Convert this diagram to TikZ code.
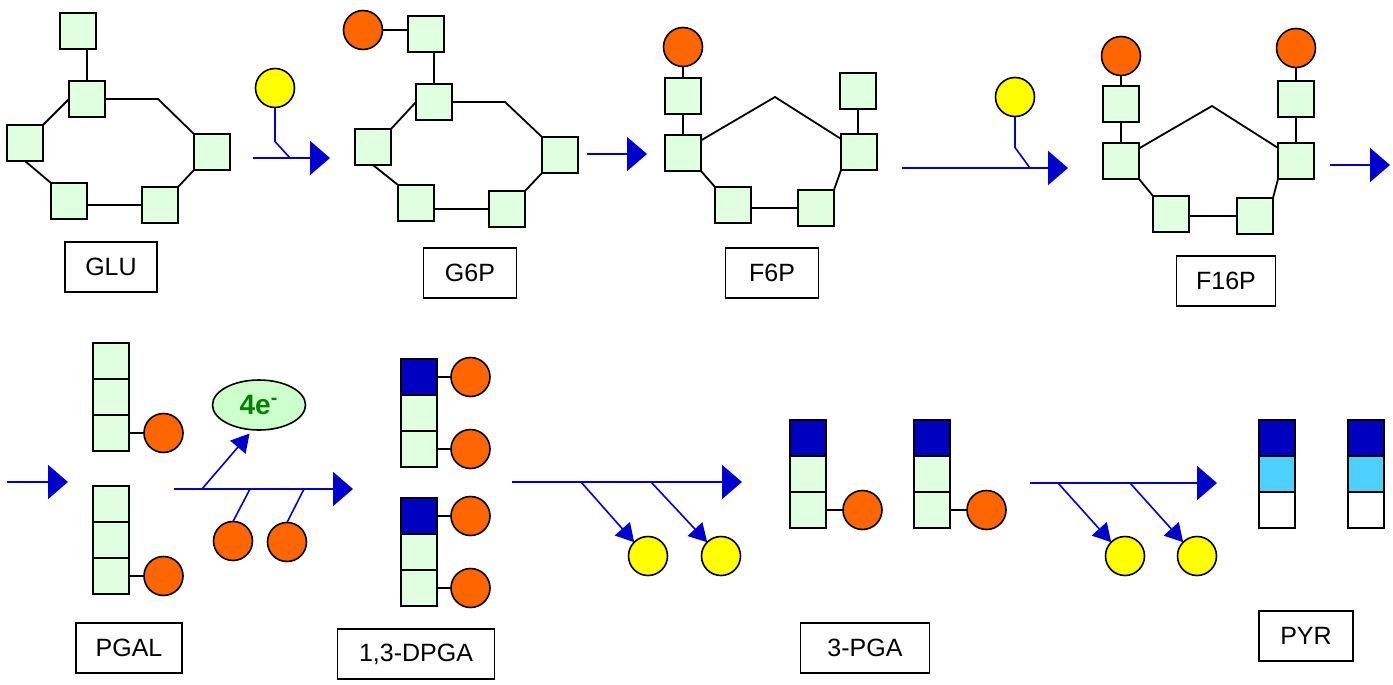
\documentclass[tikz,border=0pt]{standalone}
\usepackage{fontspec}
\setmainfont{Liberation Sans}
\usepackage{xcolor}
\usetikzlibrary{arrows.meta, positioning, shapes.geometric}

\definecolor{carbon}{RGB}{224,255,224}
\definecolor{phosorange}{RGB}{255,102,0}
\definecolor{atpyellow}{RGB}{255,255,0}
\definecolor{oxblue}{RGB}{0,0,192}
\definecolor{pyrblue}{RGB}{77,207,255}
\definecolor{flowblue}{RGB}{0,0,204}
\definecolor{elgreen}{RGB}{204,255,204}
\definecolor{eltext}{RGB}{0,128,0}

\begin{document}
\begin{tikzpicture}[x=0.5pt, y=-0.5pt,
  sq/.style={draw, fill=carbon, minimum size=18pt, inner sep=0pt, outer sep=0pt, line width=0.9pt},
  phos/.style={draw, circle, fill=phosorange, minimum size=19.5pt, inner sep=0pt, outer sep=0pt, line width=0.8pt},
  atp/.style={phos, fill=atpyellow},
  molname/.style={draw, line width=0.8pt, minimum height=25pt, inner sep=0pt, font=\fontsize{12.5}{14}\selectfont},
  bond/.style={line width=0.9pt},
  flow/.style={draw=flowblue, line width=1pt, -{Triangle[length=10pt, width=17pt]}},
  side/.style={draw=flowblue, line width=0.8pt},
  sideout/.style={side, -{Triangle[length=9pt, width=10pt]}},
]
  \useasboundingbox (0,0) rectangle (1393,685);

  % Glucose
  \node[sq] (glu1) at (78,31) {};
  \node[sq] (glu2) at (87,99) {};
  \node[sq] (glu3) at (25,143) {};
  \node[sq] (glu4) at (69,201) {};
  \node[sq] (glu5) at (160,205) {};
  \node[sq] (glu6) at (212,152) {};
  \coordinate (gluv) at (158,99);
  \draw[bond] (glu2.north) -- (glu2.north |- glu1.south);
  \draw[bond] (glu2.west) -- (glu3.north east);
  \draw[bond] (glu3.south) -- (glu4.north west);
  \draw[bond] (glu4.east |- glu5) -- (glu5.west);
  \draw[bond] (glu5.north east) -- (glu6.south west);
  \draw[bond] (glu2.east) -- (gluv) -- (glu6.north west);
  \node[molname, minimum width=46pt] (glu) at (111,267) {GLU};

  % ATP -> glucose-6-phosphate
  \node[atp] (atp1) at (275,88) {};
  \coordinate (a1s) at (253,158);
  \coordinate (a1j) at (290,158);
  \coordinate (a1e) at (330,158);
  \draw[flow] (a1s) -- (a1e);
  \draw[side] (atp1.south) -- ++(0,34) -- (a1j);

  % Glucose-6-phosphate
  \node[phos] (g6p0) at (363,30) {};
  \node[sq] (g6p1) at (426,34) {};
  \node[sq] (g6p2) at (434,102) {};
  \node[sq] (g6p3) at (373,147) {};
  \node[sq] (g6p4) at (416,203) {};
  \node[sq] (g6p5) at (507,209) {};
  \node[sq] (g6p6) at (560,155) {};
  \coordinate (g6pv) at (505,102);
  \draw[bond] (g6p0.east) -- (g6p1.west |- g6p0);
  \draw[bond] (g6p2.north) -- (g6p2.north |- g6p1.south);
  \draw[bond] (g6p2.west) -- (g6p3.north east);
  \draw[bond] (g6p3.south) -- (g6p4.north west);
  \draw[bond] (g6p4.east |- g6p5) -- (g6p5.west);
  \draw[bond] (g6p5.north east) -- (g6p6.south west);
  \draw[bond] (g6p2.east) -- (g6pv) -- (g6p6.north west);
  \node[molname, minimum width=46.5pt] (g6p) at (470,273) {G6P};

  \coordinate (a2s) at (587,154);
  \coordinate (a2e) at (647,154);
  \draw[flow] (a2s) -- (a2e);

  % Fructose-6-phosphate
  \node[phos] (f6p0) at (683,47) {};
  \node[sq] (f6p1) at (683,96) {};
  \node[sq] (f6p2) at (683,153) {};
  \node[sq] (f6p3) at (733,205) {};
  \node[sq] (f6p4) at (816,208) {};
  \node[sq] (f6p5) at (859,152) {};
  \node[sq] (f6p6) at (858,91) {};
  \coordinate (f6pv) at (775,97);
  \draw[bond] (f6p0.south) -- (f6p1.north);
  \draw[bond] (f6p1.south) -- (f6p2.north);
  \draw[bond] (f6p2.35) -- (f6pv) -- (f6p5.144);
  \draw[bond] (f6p2.south east) -- (f6p3.north west);
  \draw[bond] (f6p3.east |- f6p4) -- (f6p4.west);
  \draw[bond] (f6p4.north east) -- (f6p5.south west);
  \draw[bond] (f6p6.south) -- (f6p6.south |- f6p5.north);
  \node[molname, minimum width=46.5pt] (f6p) at (772,273) {F6P};

  % ATP -> fructose-1,6-bisphosphate
  \node[atp] (atp2) at (1015,97) {};
  \coordinate (a3s) at (902,168);
  \coordinate (a3j) at (1030,168);
  \coordinate (a3e) at (1068,168);
  \draw[flow] (a3s) -- (a3e);
  \draw[side] (atp2.south) -- ++(0,31) -- (a3j);

  % Fructose-1,6-bisphosphate
  \node[phos] (f16p0) at (1121,56) {};
  \node[sq] (f16p1) at (1121,104) {};
  \node[sq] (f16p2) at (1121,161) {};
  \node[sq] (f16p3) at (1171,214) {};
  \node[sq] (f16p4) at (1255,216) {};
  \node[sq] (f16p5) at (1296,161) {};
  \node[sq] (f16p6) at (1296,99) {};
  \node[phos] (f16p7) at (1296,48) {};
  \coordinate (f16pv) at (1212,106);
  \draw[bond] (f16p0.south) -- (f16p1.north);
  \draw[bond] (f16p1.south) -- (f16p2.north);
  \draw[bond] (f16p2.35) -- (f16pv) -- (f16p5.144);
  \draw[bond] (f16p2.south east) -- (f16p3.north west);
  \draw[bond] (f16p3.east |- f16p4) -- (f16p4.west);
  \draw[bond] (f16p4.north east) -- (f16p5.south west);
  \draw[bond] (f16p5.north) -- (f16p6.south);
  \draw[bond] (f16p6.north) -- (f16p7.south);
  \node[molname, minimum width=49.5pt] (f16p) at (1226,281) {F16P};

  \coordinate (a4s) at (1330,165);
  \coordinate (a4e) at (1390,165);
  \draw[flow] (a4s) -- (a4e);

  % second row
  \coordinate (a5s) at (7,482);
  \coordinate (a5e) at (68,482);
  \draw[flow] (a5s) -- (a5e);

  % PGAL, two of them
  \node[sq] (pgal1) at (111,361) {};
  \node[sq, below=0pt of pgal1] (pgal2) {};
  \node[sq, below=0pt of pgal2] (pgal3) {};
  \node[phos, right=7.5pt of pgal3] (pgalp1) {};
  \draw[bond] (pgal3.east) -- (pgalp1.west);
  \node[sq] (pgal4) at (111,504) {};
  \node[sq, below=0pt of pgal4] (pgal5) {};
  \node[sq, below=0pt of pgal5] (pgal6) {};
  \node[phos, right=7.5pt of pgal6] (pgalp2) {};
  \draw[bond] (pgal6.east) -- (pgalp2.west);
  \node[molname, minimum width=53pt] (pgal) at (129,648) {PGAL};

  % oxidation, phosphates taken up
  \node[ellipse, draw, line width=0.8pt, fill=elgreen, minimum width=46.5pt, minimum height=25pt, inner sep=0pt,
        font=\fontsize{14}{16}\selectfont\bfseries, text=eltext] (elec) at (259,405) {4e\textsuperscript{-}};
  \node[phos] (pin1) at (233,541) {};
  \node[phos] (pin2) at (287,542) {};
  \coordinate (a6s) at (174,489);
  \coordinate (a6j) at (202,489);
  \coordinate (a6k) at (250,489);
  \coordinate (a6l) at (304,489);
  \coordinate (a6e) at (353,489);
  \draw[flow] (a6s) -- (a6e);
  \draw[sideout, shorten >=2pt] (a6j) -- (elec.255);
  \draw[side] (a6k) -- (pin1.north);
  \draw[side] (a6l) -- (pin2.north);

  % 1,3-DPGA
  \node[sq, fill=oxblue] (dpga1) at (419,377) {};
  \node[sq, below=0pt of dpga1] (dpga2) {};
  \node[sq, below=0pt of dpga2] (dpga3) {};
  \node[phos, right=7pt of dpga1] (dpgap1) {};
  \node[phos, right=7pt of dpga3] (dpgap2) {};
  \draw[bond] (dpga1.east) -- (dpgap1.west);
  \draw[bond] (dpga3.east) -- (dpgap2.west);
  \node[sq, fill=oxblue] (dpga4) at (419,516) {};
  \node[sq, below=0pt of dpga4] (dpga5) {};
  \node[sq, below=0pt of dpga5] (dpga6) {};
  \node[phos, right=7pt of dpga4] (dpgap3) {};
  \node[phos, right=7pt of dpga6] (dpgap4) {};
  \draw[bond] (dpga4.east) -- (dpgap3.west);
  \draw[bond] (dpga6.east) -- (dpgap4.west);
  \node[molname, minimum width=78.5pt] (dpga) at (416,654) {1,3-DPGA};

  % first ATP pair out
  \node[atp] (atp3) at (648,556) {};
  \node[atp] (atp4) at (721,556) {};
  \coordinate (a7s) at (512,482);
  \coordinate (a7j) at (581,482);
  \coordinate (a7k) at (651,482);
  \coordinate (a7e) at (742,482);
  \draw[flow] (a7s) -- (a7e);
  \draw[sideout] (a7j) -- (atp3.135);
  \draw[sideout] (a7k) -- (atp4.135);

  % 3-PGA
  \node[sq, fill=oxblue] (pga1) at (808,438) {};
  \node[sq, below=0pt of pga1] (pga2) {};
  \node[sq, below=0pt of pga2] (pga3) {};
  \node[phos, right=8.5pt of pga3] (pgap1) {};
  \draw[bond] (pga3.east) -- (pgap1.west);
  \node[sq, fill=oxblue] (pga4) at (932,438) {};
  \node[sq, below=0pt of pga4] (pga5) {};
  \node[sq, below=0pt of pga5] (pga6) {};
  \node[phos, right=8.5pt of pga6] (pgap2) {};
  \draw[bond] (pga6.east) -- (pgap2.west);
  \node[molname, minimum width=64.5pt] (pga) at (865,648) {3-PGA};

  % second ATP pair out
  \node[atp] (atp5) at (1125,556) {};
  \node[atp] (atp6) at (1197,556) {};
  \coordinate (a8s) at (1030,483);
  \coordinate (a8j) at (1058,483);
  \coordinate (a8k) at (1130,483);
  \coordinate (a8e) at (1217,483);
  \draw[flow] (a8s) -- (a8e);
  \draw[sideout] (a8j) -- (atp5.135);
  \draw[sideout] (a8k) -- (atp6.135);

  % pyruvate
  \node[sq, fill=oxblue] (pyr1) at (1277,438) {};
  \node[sq, fill=pyrblue, below=0pt of pyr1] (pyr2) {};
  \node[sq, fill=white, below=0pt of pyr2] (pyr3) {};
  \node[sq, fill=oxblue] (pyr4) at (1366,438) {};
  \node[sq, fill=pyrblue, below=0pt of pyr4] (pyr5) {};
  \node[sq, fill=white, below=0pt of pyr5] (pyr6) {};
  \node[molname, minimum width=47pt] (pyr) at (1306,636) {PYR};
\end{tikzpicture}
\end{document}
